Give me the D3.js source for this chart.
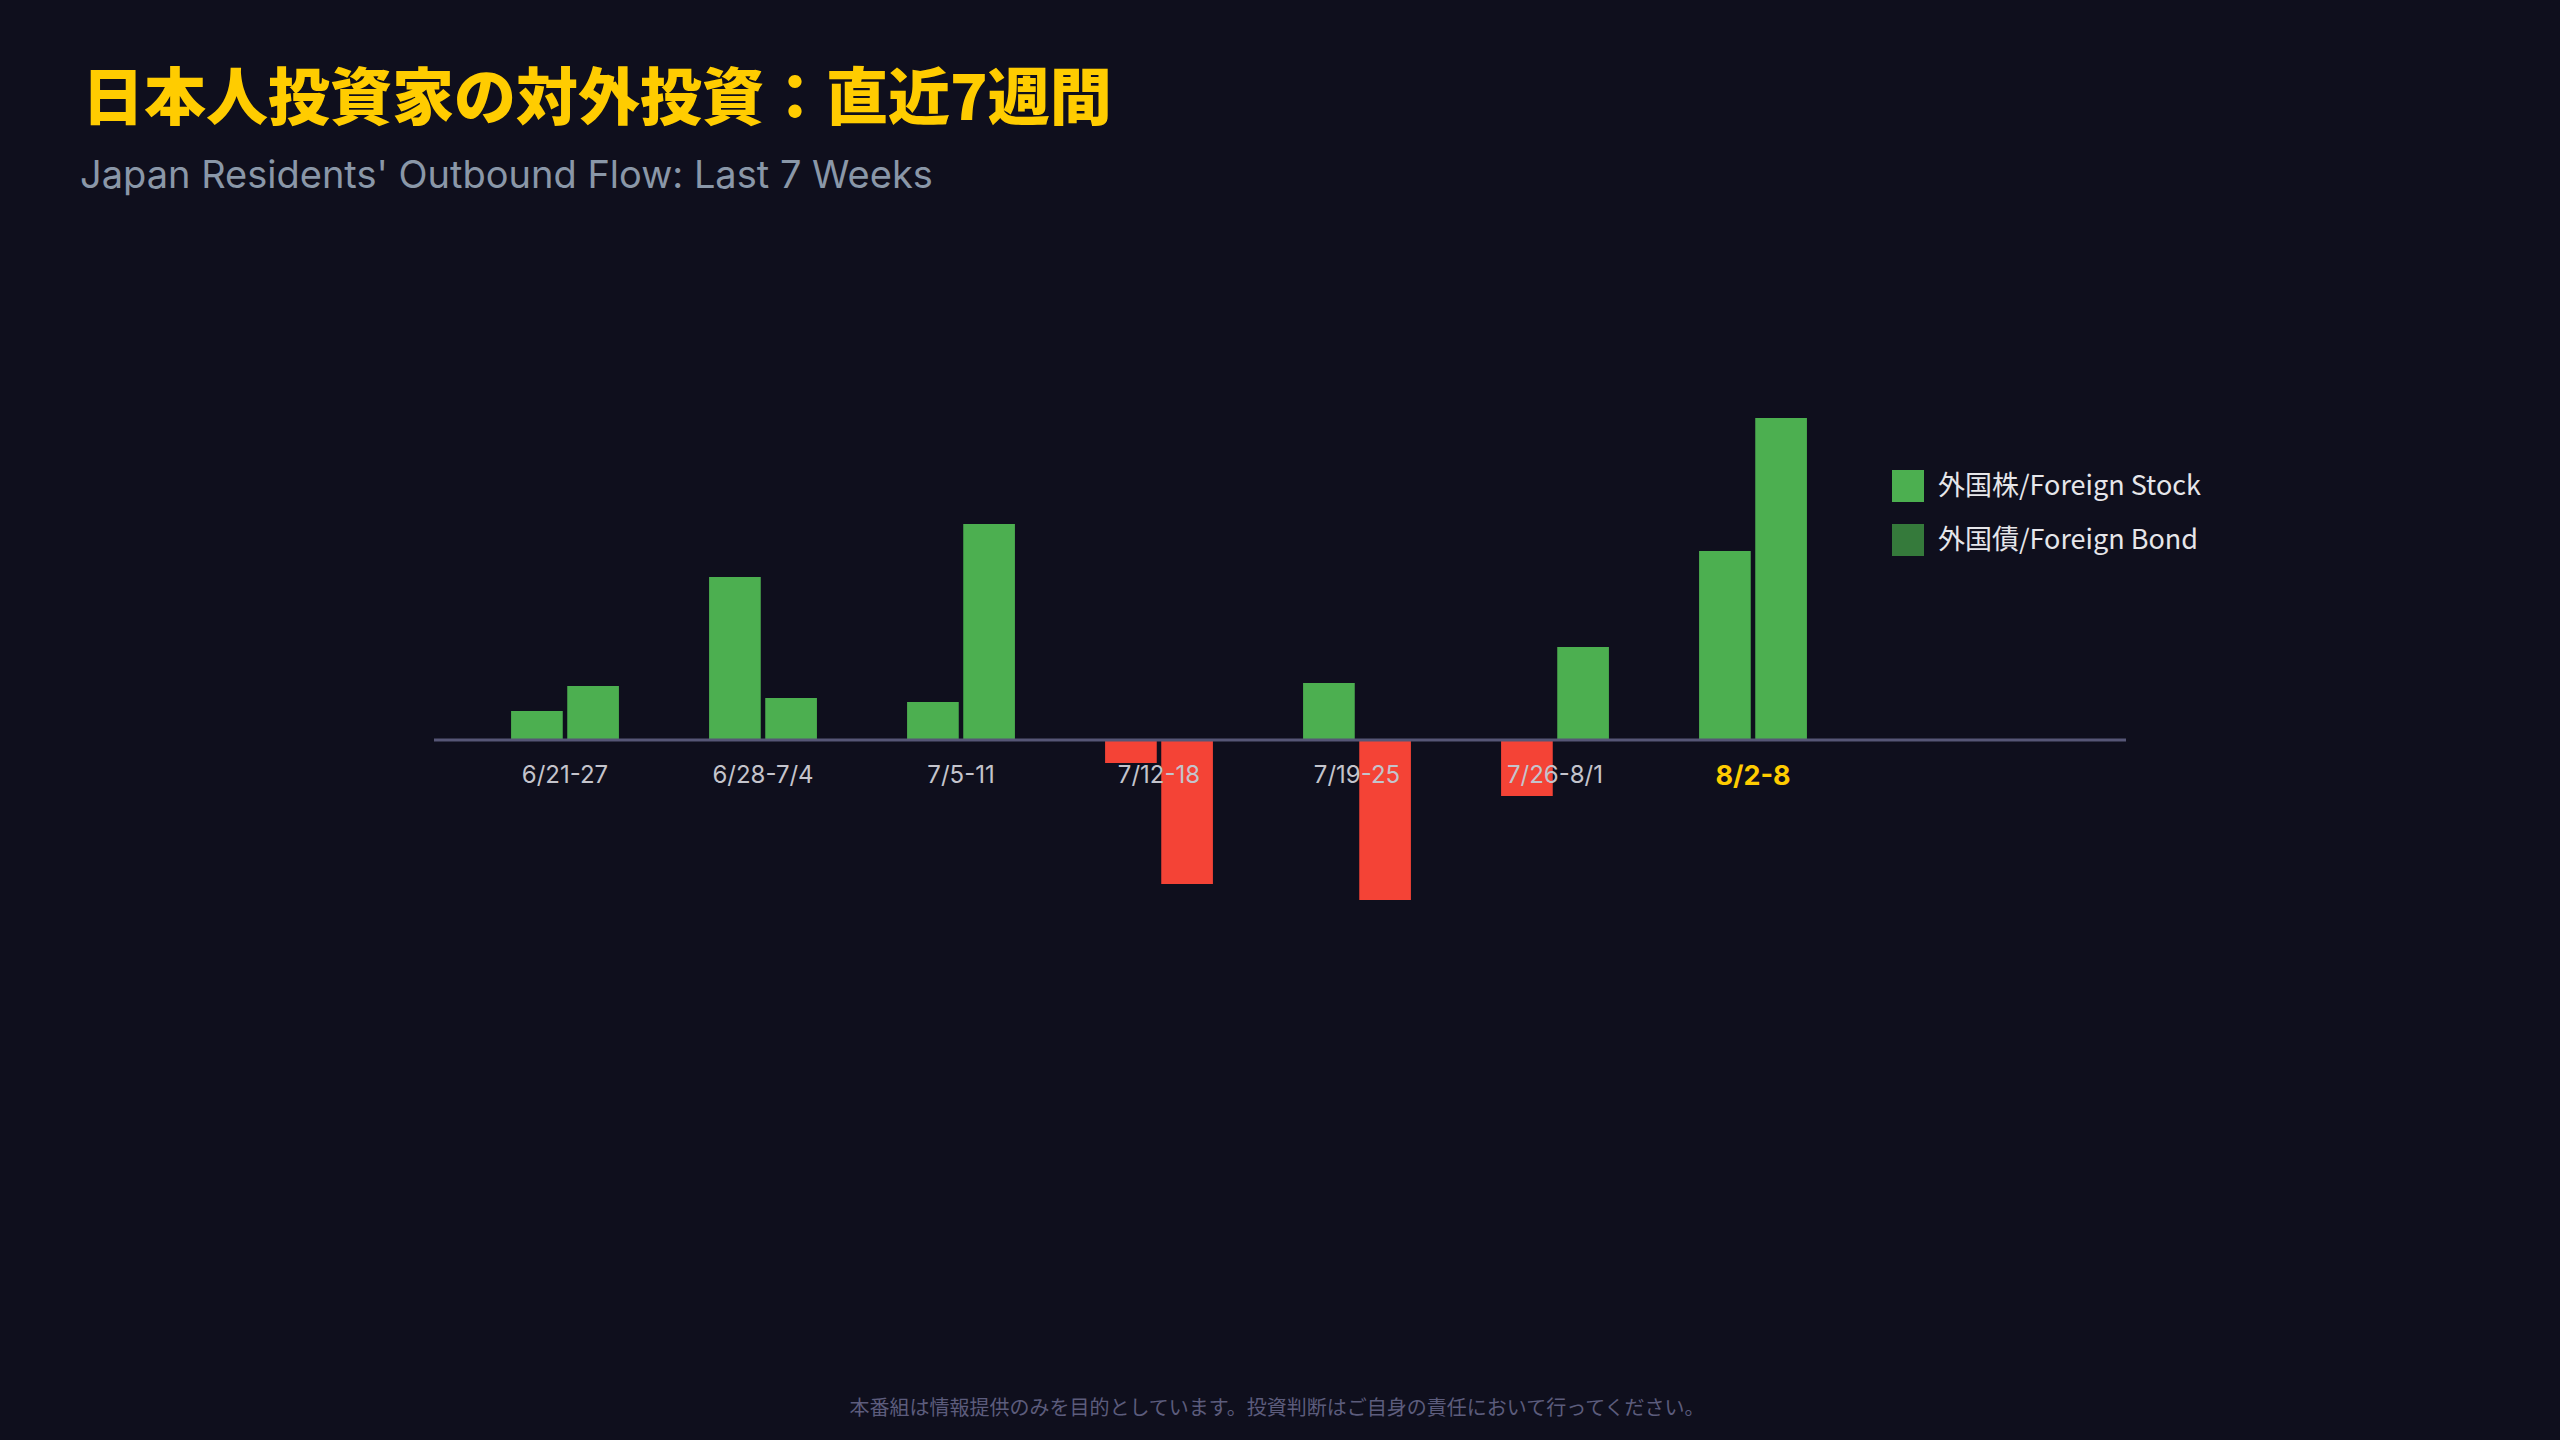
<!DOCTYPE html>
<html><head><meta charset="utf-8">
<script src="https://cdn.jsdelivr.net/npm/d3@7"></script>
<style>html,body{margin:0;background:#0f0f1d;}svg{display:block;}</style>
</head><body>
<svg id="c" width="2560" height="1440"></svg>
<script>
const weeks = ["6/21-27","6/28-7/4","7/5-11","7/12-18","7/19-25","7/26-8/1","8/2-8"];
const stock = [29, 163, 38, -23, 57, -56, 189];
const bond  = [54, 42, 216, -144, -160, 93, 322];
const seriesKeys = ["stock","bond"];
const legendLabels = ["外国株/Foreign Stock","外国債/Foreign Bond"];
const legendColors = ["#4caf50","#357a3b"];

const svg = d3.select("#c");
svg.append("rect").attr("width",2560).attr("height",1440).attr("fill","#0f0f1d");
const JP = "'Noto Sans CJK JP','Noto Sans',sans-serif";

svg.append("text").attr("x",82).attr("y",120).attr("fill","#ffcc00")
  .attr("font-family",JP).attr("font-weight",900).attr("font-size",62).text("日本人投資家の対外投資：直近7週間");
svg.append("text").attr("x",80).attr("y",188).attr("fill","#8a97a8")
  .attr("font-family","Inter,'Noto Sans',sans-serif").attr("font-size",38).text("Japan Residents' Outbound Flow: Last 7 Weeks");

const x = d3.scaleBand().domain(weeks).range([466, 466+7*198]).paddingInner(0.41).paddingOuter(0.205);
const xs = d3.scaleBand().domain(seriesKeys).range([0, x.bandwidth()]).padding(0.08);
const y = d3.scaleLinear().domain([-300, 400]).range([1040, 340]);

const data = weeks.map((w,i)=>({w, vals:[{k:"stock",v:stock[i]},{k:"bond",v:bond[i]}]}));
const g = svg.append("g");
g.selectAll("g.grp").data(data).join("g").attr("transform",d=>`translate(${x(d.w)},0)`)
 .selectAll("rect").data(d=>d.vals).join("rect")
 .attr("x",d=>xs(d.k)).attr("width",xs.bandwidth())
 .attr("y",d=>y(Math.max(0,d.v))).attr("height",d=>Math.abs(y(d.v)-y(0)))
 .attr("fill",d=>d.v>=0?"#4caf50":"#f44336");

svg.append("line").attr("x1",434).attr("x2",2126).attr("y1",y(0)).attr("y2",y(0))
  .attr("stroke","#565676").attr("stroke-width",3);

const ax = svg.append("g").attr("transform",`translate(0,${y(0)})`)
  .call(d3.axisBottom(x).tickSize(0).tickPadding(26));
ax.select(".domain").remove();
ax.selectAll("text").attr("font-family","Inter,'Noto Sans',sans-serif").attr("font-size",24)
  .attr("fill",(d,i)=>i===weeks.length-1?"#ffcc00":"#c4c4cc")
  .attr("font-weight",(d,i)=>i===weeks.length-1?700:400)
  .attr("font-size",(d,i)=>i===weeks.length-1?27:24);

const lg = svg.append("g");
legendLabels.forEach((t,i)=>{
  lg.append("rect").attr("x",1892).attr("y",470+i*54).attr("width",32).attr("height",32).attr("fill",legendColors[i]);
  lg.append("text").attr("x",1938).attr("y",495+i*54).attr("fill","#e6e6ea")
    .attr("font-family",JP).attr("font-size",27).text(t);
});

svg.append("text").attr("x",1277).attr("y",1415).attr("text-anchor","middle").attr("fill","#5c5c7c")
  .attr("font-family",JP).attr("font-size",20).text("本番組は情報提供のみを目的としています。投資判断はご自身の責任において行ってください。");
</script>
</body></html>
